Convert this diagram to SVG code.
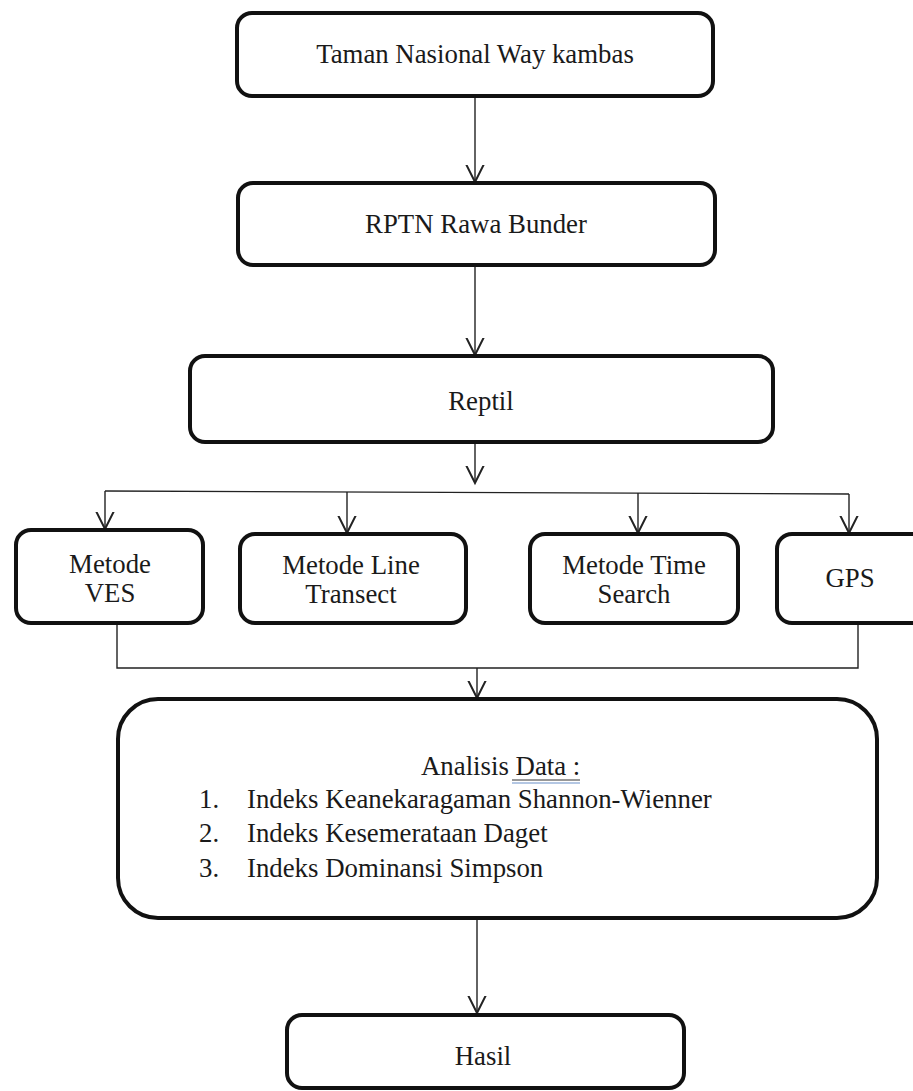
<svg xmlns="http://www.w3.org/2000/svg" width="913" height="1091" viewBox="0 0 913 1091">
<style>
.box{fill:#fff;stroke:#111;stroke-width:4}
.t{font-family:"Liberation Serif","Times New Roman",serif;font-size:26.8px;fill:#1a1a1a}
.c{text-anchor:middle}
.ln{fill:none;stroke:#222;stroke-width:1.4}
</style>
<defs>
<marker id="ah" markerUnits="userSpaceOnUse" markerWidth="20" markerHeight="20" refX="14" refY="8" orient="auto" viewBox="0 0 16 16">
<path d="M0,1 L14,8 L0,15" fill="none" stroke="#222" stroke-width="1.6"/>
</marker>
</defs>
<rect width="913" height="1091" fill="#fff"/>
<g id="connectors">
<line class="ln" x1="475" y1="96" x2="475" y2="182" marker-end="url(#ah)"/>
<line class="ln" x1="475" y1="265" x2="475" y2="355" marker-end="url(#ah)"/>
<line class="ln" x1="475" y1="443" x2="475" y2="483" marker-end="url(#ah)"/>
<polyline class="ln" points="105,491 849,494"/>
<line class="ln" x1="105" y1="491" x2="105" y2="529" marker-end="url(#ah)"/>
<line class="ln" x1="347" y1="492" x2="347" y2="533" marker-end="url(#ah)"/>
<line class="ln" x1="638" y1="493" x2="638" y2="533" marker-end="url(#ah)"/>
<line class="ln" x1="849" y1="494" x2="849" y2="533" marker-end="url(#ah)"/>
<polyline class="ln" points="117,624 117,668 858,668 858,624"/>
<line class="ln" x1="477" y1="668" x2="477" y2="698" marker-end="url(#ah)"/>
<line class="ln" x1="477" y1="920" x2="477" y2="1013" marker-end="url(#ah)"/>
</g>
<g id="n1">
<rect class="box" x="237" y="13" width="476" height="83" rx="15"/>
<text class="t c" x="475" y="63">Taman Nasional Way kambas</text>
</g>
<g id="n2">
<rect class="box" x="238" y="183" width="477" height="82" rx="15"/>
<text class="t c" x="476" y="233">RPTN Rawa Bunder</text>
</g>
<g id="n3">
<rect class="box" x="190" y="356" width="583" height="86" rx="15"/>
<text class="t c" x="481" y="410">Reptil</text>
</g>
<g id="n4">
<rect class="box" x="16" y="530" width="187" height="93" rx="15"/>
<text class="t c" x="110" y="573">Metode</text>
<text class="t c" x="110" y="602">VES</text>
</g>
<g id="n5">
<rect class="box" x="240" y="534" width="226" height="89" rx="15"/>
<text class="t c" x="351" y="574">Metode Line</text>
<text class="t c" x="351" y="603">Transect</text>
</g>
<g id="n6">
<rect class="box" x="530" y="534" width="208" height="89" rx="15"/>
<text class="t c" x="634" y="574">Metode Time</text>
<text class="t c" x="634" y="603">Search</text>
</g>
<g id="n7">
<rect class="box" x="777" y="534" width="150" height="89" rx="15"/>
<text class="t c" x="850" y="587">GPS</text>
</g>
<g id="n8">
<rect class="box" x="118" y="699" width="759" height="219" rx="40"/>
<text class="t" x="421" y="775">Analisis Data :</text>
<line x1="512" y1="780" x2="580" y2="780" stroke="#333" stroke-width="1.2"/>
<line x1="512" y1="783" x2="580" y2="783" stroke="#6a8fc8" stroke-width="1.2"/>
<text class="t" x="199" y="808">1.</text>
<text class="t" x="247" y="808">Indeks Keanekaragaman Shannon-Wienner</text>
<text class="t" x="199" y="842">2.</text>
<text class="t" x="247" y="842">Indeks Kesemerataan Daget</text>
<text class="t" x="199" y="877">3.</text>
<text class="t" x="247" y="877">Indeks Dominansi Simpson</text>
</g>
<g id="n9">
<rect class="box" x="287" y="1015" width="397" height="73" rx="15"/>
<text class="t c" x="483" y="1065">Hasil</text>
</g>
</svg>
